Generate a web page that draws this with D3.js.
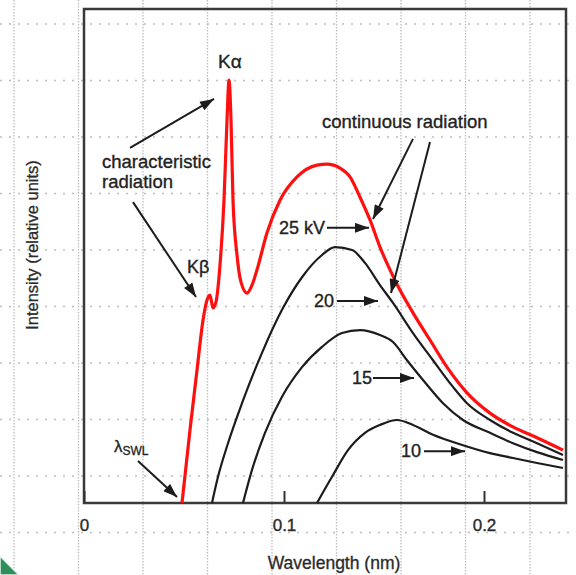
<!DOCTYPE html>
<html>
<head>
<meta charset="utf-8">
<script src="https://cdn.jsdelivr.net/npm/d3@7"></script>
<style>
  body { margin: 0; background: #fff; }
  svg { display: block; font-family: "Liberation Sans", Arial, sans-serif; }
</style>
</head>
<body>
<div id="chart"></div>
<script>
// wavelength (nm) and intensity (relative units)
var kv25Lambda = [0.049, 0.053, 0.0565, 0.0595, 0.0615, 0.063, 0.0645, 0.066, 0.068, 0.070, 0.0715, 0.0725, 0.0735, 0.0745, 0.0765, 0.0785, 0.0815, 0.084, 0.0865, 0.0915, 0.098, 0.1065, 0.1165, 0.1215, 0.128, 0.133, 0.138, 0.143, 0.148, 0.153, 0.158, 0.1645, 0.173, 0.1815, 0.1915, 0.203, 0.2145, 0.2265, 0.2395];
var kv25Int    = [0, 1.48, 2.69, 3.70, 4.11, 4.21, 3.95, 4.07, 4.82, 6.13, 7.75, 8.56, 7.75, 6.13, 5.02, 4.47, 4.25, 4.41, 4.72, 5.47, 6.13, 6.60, 6.84, 6.86, 6.78, 6.60, 6.19, 5.73, 5.18, 4.72, 4.31, 3.85, 3.30, 2.75, 2.23, 1.82, 1.54, 1.32, 1.07];

var kv20Lambda = [0.064, 0.067, 0.072, 0.079, 0.089, 0.099, 0.109, 0.119, 0.1255, 0.134, 0.1405, 0.148, 0.1545, 0.1645, 0.1745, 0.1845, 0.1915, 0.203, 0.2145, 0.2265, 0.2395];
var kv20Int    = [0, 0.53, 1.21, 2.02, 3.04, 3.91, 4.57, 5.02, 5.18, 5.12, 4.86, 4.41, 4.05, 3.44, 2.89, 2.35, 2.02, 1.68, 1.42, 1.21, 0.97];

var kv15Lambda = [0.0795, 0.084, 0.0905, 0.099, 0.109, 0.119, 0.129, 0.138, 0.148, 0.1545, 0.1615, 0.1695, 0.1795, 0.1895, 0.203, 0.2145, 0.2265, 0.2395];
var kv15Int    = [0, 0.67, 1.42, 2.15, 2.75, 3.16, 3.44, 3.50, 3.40, 3.26, 2.89, 2.49, 2.02, 1.68, 1.42, 1.21, 1.03, 0.87];

var kv10Lambda = [0.1165, 0.124, 0.132, 0.1405, 0.148, 0.1565, 0.1645, 0.1745, 0.1895, 0.203, 0.2145, 0.2265, 0.2395];
var kv10Int    = [0, 0.53, 1.07, 1.42, 1.58, 1.68, 1.58, 1.38, 1.17, 1.01, 0.91, 0.81, 0.71];

var xTicks = [0, 0.1, 0.2];
var xTickLabels = ["0", "0.1", "0.2"];

var w = 576, h = 575;
var margin = { left: 84, top: 9, right: 10, bottom: 72 };

var svg = d3.select("#chart").append("svg")
    .attr("width", w)
    .attr("height", h);

// graph-paper background grid
var gridX = d3.range(9).map(function(i) { return 14 + i * 64.5; });
var gridY = d3.range(10).map(function(i) { return 24 + i * 56.5; });

svg.selectAll(".gx").data(gridX).enter().append("line")
    .attr("x1", function(d) { return d; }).attr("x2", function(d) { return d; })
    .attr("y1", 0).attr("y2", h)
    .attr("stroke", "#bdbdbd").attr("stroke-width", 1.3)
    .attr("stroke-dasharray", "1.5,1.5");
svg.selectAll(".gy").data(gridY).enter().append("line")
    .attr("x1", 0).attr("x2", w)
    .attr("y1", function(d) { return d; }).attr("y2", function(d) { return d; })
    .attr("stroke", "#bdbdbd").attr("stroke-width", 1.6)
    .attr("stroke-dasharray", "2,7");

// green slide corner
svg.append("path")
    .attr("d", "M0,556 L19,575 L0,575 Z")
    .attr("fill", "#2f8f5b").attr("stroke", "#e8f3ec").attr("stroke-width", 1.5);

var x = d3.scaleLinear().domain([0, 0.241]).range([margin.left, w - margin.right]);
var y = d3.scaleLinear().domain([0, 10]).range([h - margin.bottom, margin.top]);

// frame
svg.append("rect")
    .attr("x", x(0)).attr("y", y(10))
    .attr("width", x(0.241) - x(0)).attr("height", y(0) - y(10))
    .attr("fill", "none").attr("stroke", "#3a3a3a").attr("stroke-width", 2.5);

// x axis: inward ticks
var xAxis = d3.axisBottom(x)
    .tickValues(xTicks)
    .tickSize(-12)
    .tickPadding(8)
    .tickFormat(function(d, i) { return xTickLabels[i]; });

var gx = svg.append("g")
    .attr("transform", "translate(0," + y(0) + ")")
    .call(xAxis);
gx.select(".domain").remove();
gx.selectAll(".tick line").attr("stroke", "#333").attr("stroke-width", 2);
gx.selectAll(".tick text")
    .attr("y", 16)
    .style("font-size", "17px")
    .style("font-family", "Liberation Sans, Arial, sans-serif")
    .attr("fill", "#2a2a2a")
    .attr("stroke", "#2a2a2a").attr("stroke-width", 0.35);

svg.append("text")
    .attr("x", 334).attr("y", 569)
    .attr("text-anchor", "middle")
    .style("font-size", "17.5px")
    .attr("fill", "#2a2a2a")
    .attr("stroke", "#2a2a2a").attr("stroke-width", 0.3)
    .text("Wavelength (nm)");

svg.append("text")
    .attr("transform", "translate(38,245) rotate(-90)")
    .attr("text-anchor", "middle")
    .style("font-size", "16.5px")
    .attr("fill", "#2a2a2a")
    .attr("stroke", "#2a2a2a").attr("stroke-width", 0.3)
    .text("Intensity (relative units)");

// spectra
var line = d3.line()
    .x(function(d) { return x(d[0]); })
    .y(function(d) { return y(d[1]); })
    .curve(d3.curveMonotoneX);

var series = [
    { lam: kv10Lambda, val: kv10Int, color: "#1c1c1c", width: 2.2 },
    { lam: kv15Lambda, val: kv15Int, color: "#1c1c1c", width: 2.2 },
    { lam: kv20Lambda, val: kv20Int, color: "#1c1c1c", width: 2.2 },
    { lam: kv25Lambda, val: kv25Int, color: "#ff1010", width: 3.2 }
];

series.forEach(function(s) {
    var pts = s.lam.map(function(l, i) { return [l, s.val[i]]; });
    svg.append("path")
        .datum(pts)
        .attr("d", line)
        .attr("fill", "none")
        .attr("stroke", s.color)
        .attr("stroke-width", s.width)
        .attr("stroke-linejoin", "round");
});

// annotation arrows, in data units [lambda, intensity]
var arrows = [
    [[0.023, 7.19], [0.065, 8.18]],
    [[0.0245, 6.09], [0.056, 4.17]],
    [[0.027, 0.85], [0.0465, 0.12]],
    [[0.1645, 7.37], [0.1445, 5.75]],
    [[0.173, 7.31], [0.1535, 4.25]],
    [[0.1215, 5.57], [0.1425, 5.57]],
    [[0.1265, 4.09], [0.147, 4.09]],
    [[0.1445, 2.53], [0.165, 2.53]],
    [[0.170, 1.05], [0.1905, 1.05]]
];

svg.append("defs").append("marker")
    .attr("id", "head")
    .attr("viewBox", "0 0 14 10")
    .attr("refX", 14).attr("refY", 5)
    .attr("markerWidth", 15).attr("markerHeight", 10)
    .attr("markerUnits", "userSpaceOnUse")
    .attr("orient", "auto")
    .append("path")
    .attr("d", "M0,0 L14,5 L0,10 Z")
    .attr("fill", "#1c1c1c");

svg.selectAll(".arrow").data(arrows).enter().append("line")
    .attr("x1", function(d) { return x(d[0][0]); })
    .attr("y1", function(d) { return y(d[0][1]); })
    .attr("x2", function(d) { return x(d[1][0]); })
    .attr("y2", function(d) { return y(d[1][1]); })
    .attr("stroke", "#1c1c1c").attr("stroke-width", 2)
    .attr("marker-end", "url(#head)");

// labels
var labels = [
    { t: "K\u03b1", at: [0.067, 8.81], anchor: "start", size: 19 },
    { t: "characteristic", at: [0.009, 6.78], anchor: "start", size: 18.5 },
    { t: "radiation", at: [0.009, 6.38], anchor: "start", size: 18.5 },
    { t: "K\u03b2", at: [0.0515, 4.66], anchor: "start", size: 18 },
    { t: "continuous radiation", at: [0.119, 7.59], anchor: "start", size: 18.5 },
    { t: "25 kV", at: [0.1205, 5.45], anchor: "end", size: 18 },
    { t: "20", at: [0.125, 3.97], anchor: "end", size: 18 },
    { t: "15", at: [0.144, 2.41], anchor: "end", size: 18 },
    { t: "10", at: [0.1685, 0.93], anchor: "end", size: 18 }
];

svg.selectAll(".lbl").data(labels).enter().append("text")
    .attr("x", function(d) { return x(d.at[0]); })
    .attr("y", function(d) { return y(d.at[1]); })
    .attr("text-anchor", function(d) { return d.anchor; })
    .style("font-size", function(d) { return d.size + "px"; })
    .attr("fill", "#222")
    .attr("stroke", "#222").attr("stroke-width", 0.35)
    .text(function(d) { return d.t; });

var swl = svg.append("text")
    .attr("x", x(0.015)).attr("y", y(1.03))
    .attr("fill", "#222")
    .attr("stroke", "#222").attr("stroke-width", 0.3)
    .style("font-size", "17px");
swl.append("tspan").text("\u03bb");
swl.append("tspan").attr("dy", 3).style("font-size", "12px").text("SWL");
</script>
</body>
</html>
